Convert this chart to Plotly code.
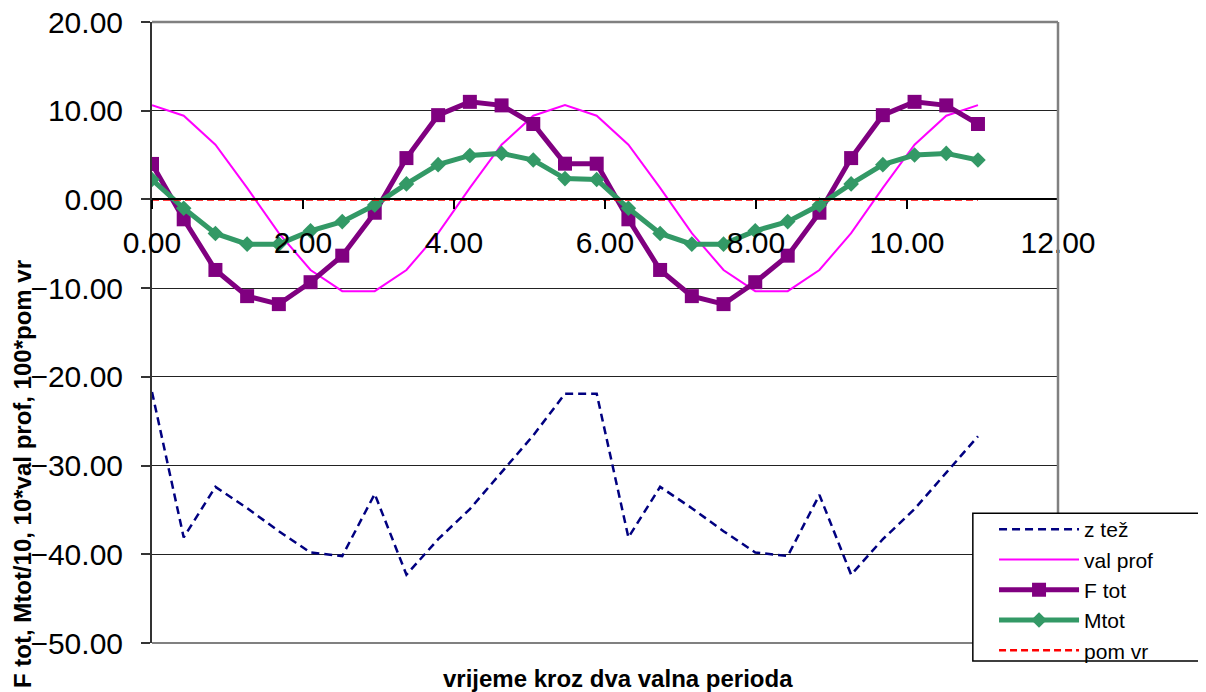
import plotly.graph_objects as go

# time axis (two wave periods)
x_vals = [0.00, 0.42, 0.84, 1.26, 1.68, 2.10, 2.52, 2.95, 3.37, 3.79, 4.21, 4.63, 5.05, 5.47,
          5.89, 6.31, 6.73, 7.15, 7.57, 7.99, 8.42, 8.84, 9.26, 9.68, 10.10, 10.52, 10.94]

z_tez = [-21.7, -38.1, -32.4, -34.8, -37.4, -39.8, -40.2, -33.2, -42.3, -38.3, -34.9, -30.7, -26.6, -21.9,
         -21.9, -38.1, -32.4, -34.8, -37.4, -39.8, -40.2, -33.3, -42.3, -38.3, -34.9, -30.8, -26.7]

val_prof = [10.63, 9.44, 6.16, 1.3, -3.8, -7.95, -10.34, -10.34, -7.95, -3.8, 1.3, 6.16, 9.44, 10.63,
            9.44, 6.16, 1.3, -3.8, -7.95, -10.34, -10.34, -7.95, -3.8, 1.3, 6.16, 9.44, 10.63]

f_tot = [4.0, -2.24, -7.95, -10.9, -11.8, -9.33, -6.34, -1.5, 4.66, 9.5, 11.0, 10.6, 8.5, 4.03,
         4.03, -2.24, -7.95, -10.9, -11.8, -9.33, -6.34, -1.5, 4.66, 9.5, 11.0, 10.6, 8.5]

m_tot = [2.24, -1.0, -3.84, -5.04, -5.04, -3.54, -2.5, -0.63, 1.75, 3.92, 4.96, 5.19, 4.44, 2.35,
         2.24, -1.0, -3.84, -5.04, -5.04, -3.54, -2.5, -0.63, 1.75, 3.92, 5.0, 5.19, 4.44]

pom_vr = [0.0] * len(x_vals)

y_range = [-50, 20]
x_range = [0, 12]

FONT = "Liberation Sans, Arial, sans-serif"

fig = go.Figure()
fig.add_trace(go.Scatter(x=x_vals, y=z_tez, name="z tež", mode="lines",
                         line=dict(color="#000080", width=2.5, dash="8px,5px")))
fig.add_trace(go.Scatter(x=x_vals, y=val_prof, name="val prof", mode="lines",
                         line=dict(color="#FF00FF", width=2)))
fig.add_trace(go.Scatter(x=x_vals, y=f_tot, name="F tot", mode="lines+markers",
                         line=dict(color="#800080", width=5),
                         marker=dict(symbol="square", size=14, color="#800080")))
fig.add_trace(go.Scatter(x=x_vals, y=m_tot, name="Mtot", mode="lines+markers",
                         line=dict(color="#339966", width=5),
                         marker=dict(symbol="diamond", size=12, color="#339966")))
fig.add_trace(go.Scatter(x=x_vals, y=pom_vr, name="pom vr", mode="lines",
                         line=dict(color="#FF0000", width=2.5, dash="7px,4px")))

zero_pos = (0 - y_range[0]) / (y_range[1] - y_range[0])

# the page adds an 8px body margin, so the figure is sized/offset to compensate
fig.update_layout(
    width=1198, height=684,
    margin=dict(l=144, r=148, t=14, b=49, autoexpand=False),
    paper_bgcolor="white", plot_bgcolor="white",
    font=dict(family=FONT, size=30, color="black"),
    showlegend=True,
    legend=dict(x=0.9294, y=0.2158, xanchor="left", yanchor="top",
                bgcolor="rgba(0,0,0,0)", borderwidth=0,
                font=dict(family=FONT, size=21, color="black"),
                itemwidth=80, tracegroupgap=0),
    xaxis=dict(range=x_range, dtick=2, tick0=0, tickformat=".2f",
               showgrid=False, zeroline=False, automargin=False,
               anchor="free", position=zero_pos,
               showline=True, linecolor="black", linewidth=1.5,
               ticks="outside", ticklen=9, tickcolor="black", tickwidth=1.5,
               ticklabelstandoff=8, ticklabeloverflow="allow",
               tickfont=dict(family=FONT, size=30, color="black")),
    yaxis=dict(range=y_range, dtick=10, tick0=0, tickformat=".2f",
               showgrid=True, gridcolor="#222222", gridwidth=1,
               zeroline=False, automargin=False,
               showline=True, linecolor="#333333", linewidth=2,
               ticks="outside", ticklen=9, tickcolor="#333333", tickwidth=1.5,
               ticklabelstandoff=12, ticklabeloverflow="allow",
               tickfont=dict(family=FONT, size=30, color="black")),
    shapes=[
        # plot-area border (top/right grey)
        dict(type="line", xref="paper", yref="paper", x0=0, x1=1, y0=1, y1=1,
             line=dict(color="#808080", width=2.5), layer="above"),
        dict(type="line", xref="paper", yref="paper", x0=1, x1=1, y0=0, y1=1,
             line=dict(color="#808080", width=2.5), layer="above"),
        dict(type="line", xref="paper", yref="paper", x0=0, x1=1, y0=0, y1=0,
             line=dict(color="#808080", width=2), layer="below"),
        # legend box
        dict(type="rect", xref="paper", yref="paper", x0=0.906, x1=1.2, y0=-0.029, y1=0.209,
             fillcolor="white", line=dict(color="black", width=1.5), layer="above"),
    ],
    annotations=[
        dict(text="<b>F tot, Mtot/10, 10*val prof, 100*pom vr</b>", xref="paper", yref="paper",
             x=-0.1435, y=0.272, xanchor="center", yanchor="middle", textangle=-90,
             showarrow=False, font=dict(family=FONT, size=24, color="black")),
        dict(text="<b>vrijeme kroz dva valna perioda</b>", xref="paper", yref="paper",
             x=0.514, y=-0.0564, xanchor="center", yanchor="middle",
             showarrow=False, font=dict(family=FONT, size=24, color="black")),
    ],
)

fig.write_html("out.html")
